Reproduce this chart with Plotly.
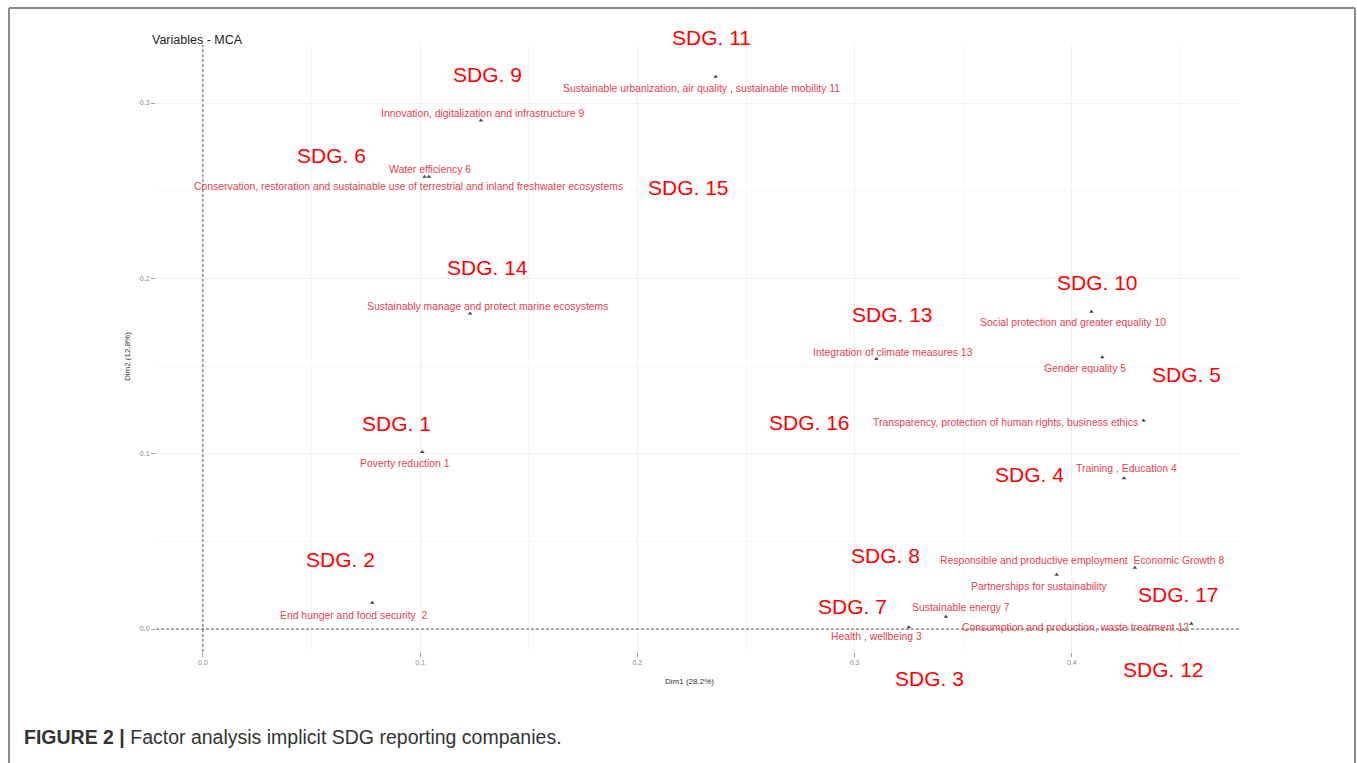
import plotly.graph_objects as go

# ---- data ----
sdg_ids = [11, 9, 6, 15, 14, 10, 13, 5, 16, 4, 1, 2, 8, 17, 7, 12, 3]
var_labels = [
    "Sustainable urbanization, air quality , sustainable mobility 11",
    "Innovation, digitalization and infrastructure 9",
    "Water efficiency 6",
    "Conservation, restoration and sustainable use of terrestrial and inland freshwater ecosystems",
    "Sustainably manage and protect marine ecosystems",
    "Social protection and greater equality 10",
    "Integration of climate measures 13",
    "Gender equality 5",
    "Transparency, protection of human rights, business ethics",
    "Training , Education 4",
    "Poverty reduction 1",
    "End hunger and food security  2",
    "Responsible and productive employment  Economic Growth 8",
    "Partnerships for sustainability",
    "Sustainable energy 7",
    "Consumption and production, waste treatment 12",
    "Health , wellbeing 3",
]
dim1 = [0.236, 0.128, 0.102, 0.104, 0.123, 0.409, 0.310, 0.414, 0.433, 0.424,
        0.101, 0.078, 0.429, 0.393, 0.342, 0.455, 0.325]
dim2 = [0.315, 0.290, 0.258, 0.258, 0.180, 0.181, 0.154, 0.155, 0.119, 0.086,
        0.101, 0.015, 0.035, 0.031, 0.007, 0.003, 0.001]
x_ticks = [0.0, 0.1, 0.2, 0.3, 0.4]
y_ticks = [0.0, 0.1, 0.2, 0.3]

# ---- label offsets in pixels (style) ----
lab_dx = [-14, 2, 5, -20, 17, -18, 17, -17, -138, 2, -17, -18, -53, -17, 15, -116, -32]
lab_dy = [-12, 7, 7, -10, 7, -11, 7, -11, -2, 10, -12, -13, 7, -12, 9, -4, -9]
sdg_dx = [-4, 7, -93, 260, 17, 6, 16, 84, -334, -95, -26, -32, -249, 122, -93, -28, 21]
sdg_dy = [39, 46, 21, -11, 46, 29, 45, -17, -2, 4, 28, 43, 12, -20, 10, -46, -51]

RED_LAB = "#e8404f"

fig = go.Figure()
fig.add_trace(go.Scatter(
    x=dim1, y=dim2, mode="markers",
    marker=dict(symbol="triangle-up", size=4, color="#444444"),
    hovertext=var_labels, hoverinfo="text", showlegend=False,
))

annotations = []
for xv, yv, lab, dx, dy in zip(dim1, dim2, var_labels, lab_dx, lab_dy):
    annotations.append(dict(
        x=xv, y=yv, xref="x", yref="y", text=lab, showarrow=False,
        xshift=dx, yshift=dy, font=dict(family="Liberation Sans", size=10.4, color=RED_LAB),
        xanchor="center", yanchor="middle",
    ))
for xv, yv, sid, dx, dy in zip(dim1, dim2, sdg_ids, sdg_dx, sdg_dy):
    annotations.append(dict(
        x=xv, y=yv, xref="x", yref="y", text=f"SDG. {sid}", showarrow=False,
        xshift=dx, yshift=dy, font=dict(family="Liberation Sans", size=21, color="#ff0000"),
        xanchor="center", yanchor="middle",
    ))

# titles / caption
annotations += [
    dict(x=-0.0055, y=1.008, xref="paper", yref="paper", text="Variables - MCA",
         showarrow=False, xanchor="left", yanchor="middle",
         font=dict(family="Liberation Sans", size=12.5, color="#222222")),
    dict(x=0.4917, y=-0.048, xref="paper", yref="paper", text="Dim1 (28.2%)",
         showarrow=False, xanchor="center", yanchor="middle",
         font=dict(family="Liberation Sans", size=8, color="#333333")),
    dict(x=-0.0258, y=0.486, xref="paper", yref="paper", text="Dim2 (12.8%)",
         showarrow=False, xanchor="center", yanchor="middle", textangle=-90,
         font=dict(family="Liberation Sans", size=8, color="#333333")),
    dict(x=-0.1236, y=-0.140, xref="paper", yref="paper",
         text="<b>FIGURE 2 |</b> Factor analysis implicit SDG reporting companies.",
         showarrow=False, xanchor="left", yanchor="middle",
         font=dict(family="Liberation Sans", size=19.5, color="#333333")),
]

frame = dict(color="#8a8a8a", width=2)
shapes = [
    dict(type="line", xref="x", yref="y domain", x0=0, x1=0, y0=0, y1=1,
         line=dict(color="#333333", width=0.8, dash="3px,2px")),
    dict(type="line", xref="x domain", yref="y", x0=0, x1=1, y0=0, y1=0,
         line=dict(color="#333333", width=0.8, dash="3px,2px")),
    # outer frame (left, top, right)
    dict(type="line", xref="paper", yref="paper", x0=-0.1356, x1=-0.1356, y0=-0.19, y1=1.0610, line=frame),
    dict(type="line", xref="paper", yref="paper", x0=-0.1356, x1=1.1061, y0=1.0610, y1=1.0610, line=frame),
    dict(type="line", xref="paper", yref="paper", x0=1.1061, x1=1.1061, y0=-0.19, y1=1.0610, line=frame),
]

grid_col = "#f0f0f0"
fig.update_layout(
    width=1357, height=763,
    margin=dict(l=156, r=117, t=45, b=111),
    paper_bgcolor="white", plot_bgcolor="white",
    annotations=annotations, shapes=shapes,
    xaxis=dict(range=[-0.0216, 0.4774], tickvals=x_ticks, ticktext=[f"{v:.1f}" for v in x_ticks],
               showgrid=True, gridcolor=grid_col, gridwidth=1, zeroline=False,
               minor=dict(dtick=0.05, showgrid=True, gridcolor="#f6f6f6"),
               ticks="outside", ticklen=4, tickcolor="#999999",
               tickfont=dict(family="Liberation Sans", size=7, color="#888888"),
               showline=False),
    yaxis=dict(range=[-0.0131, 0.3331], tickvals=y_ticks, ticktext=[f"{v:.1f}" for v in y_ticks],
               showgrid=True, gridcolor=grid_col, gridwidth=1, zeroline=False,
               minor=dict(dtick=0.05, showgrid=True, gridcolor="#f6f6f6"),
               ticks="outside", ticklen=4, tickcolor="#999999",
               tickfont=dict(family="Liberation Sans", size=7, color="#888888"),
               showline=False),
    font=dict(family="Liberation Sans"),
)

fig.write_html("out.html")
